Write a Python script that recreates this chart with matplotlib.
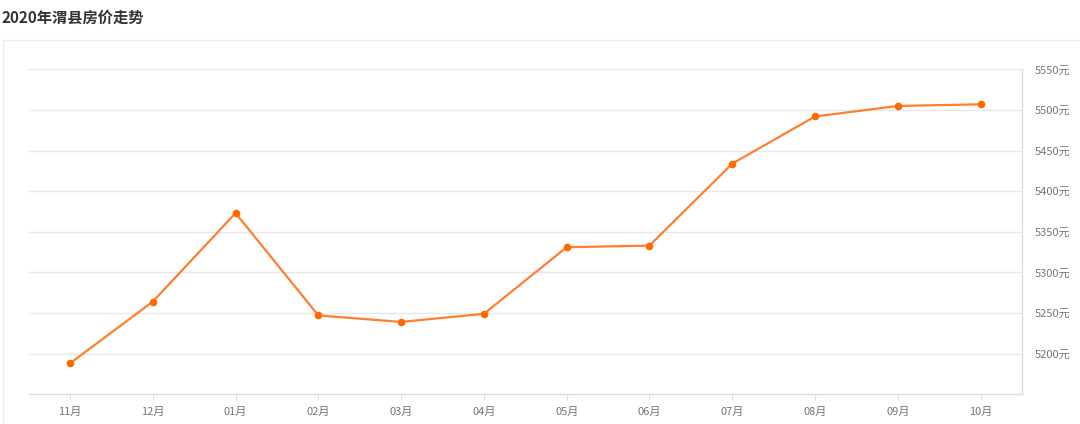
import matplotlib
matplotlib.use("Agg")
import matplotlib.pyplot as plt
from matplotlib.patches import Rectangle

plt.rcParams['font.family'] = ['Noto Sans CJK SC', 'DejaVu Sans']

title = "2020年渭县房价走势"
months = ["11月", "12月", "01月", "02月", "03月", "04月", "05月", "06月", "07月", "08月", "09月", "10月"]
prices = [5188, 5264, 5373, 5247, 5239, 5249, 5331, 5333, 5434, 5492, 5505, 5507]
yticks = [5200, 5250, 5300, 5350, 5400, 5450, 5500, 5550]
ytick_labels = [f"{v}元" for v in yticks]

W, H = 1080, 424
fig = plt.figure(figsize=(W / 100, H / 100), dpi=100)
fig.patch.set_facecolor("white")

# panel frame
fig.patches.append(Rectangle((3 / W, -0.1), 1.2, (H - 40) / H + 0.1, transform=fig.transFigure,
                             fill=False, edgecolor="#eeeeee", linewidth=1.0))

fig.text(2 / W, 1 - 18 / H, title, fontsize=11, fontweight="bold", color="#333333",
         ha="left", va="center")

left, right = 28.6 / W, 1022 / W
bottom, top = (H - 394.2) / H, (H - 69.4) / H
ax = fig.add_axes([left, bottom, right - left, top - bottom])

x = list(range(len(months)))
ax.plot(x, prices, color="#ff7f30", linewidth=1.6, zorder=3)
ax.plot(x, prices, linestyle="none", marker="o", markersize=5.5, color="#ff6a00",
        markeredgewidth=0, zorder=4)

ax.set_xlim(-0.5, len(months) - 0.5)
ax.set_ylim(5150, 5550)
ax.set_xticks(x)
ax.set_xticklabels(months, fontsize=8, color="#777777")
ax.set_yticks(yticks)
ax.set_yticklabels(ytick_labels, fontsize=8, color="#777777")
ax.yaxis.tick_right()
ax.tick_params(axis="y", length=0, pad=9)
ax.tick_params(axis="x", length=4, color="#dddddd", pad=5)

ax.grid(axis="y", color="#e8e8e8", linewidth=1.0)
ax.set_axisbelow(True)
for s in ["left", "top"]:
    ax.spines[s].set_visible(False)
for s in ["right", "bottom"]:
    ax.spines[s].set_color("#dddddd")
    ax.spines[s].set_linewidth(1.0)

fig.savefig("out.png", dpi=100, facecolor="white")
